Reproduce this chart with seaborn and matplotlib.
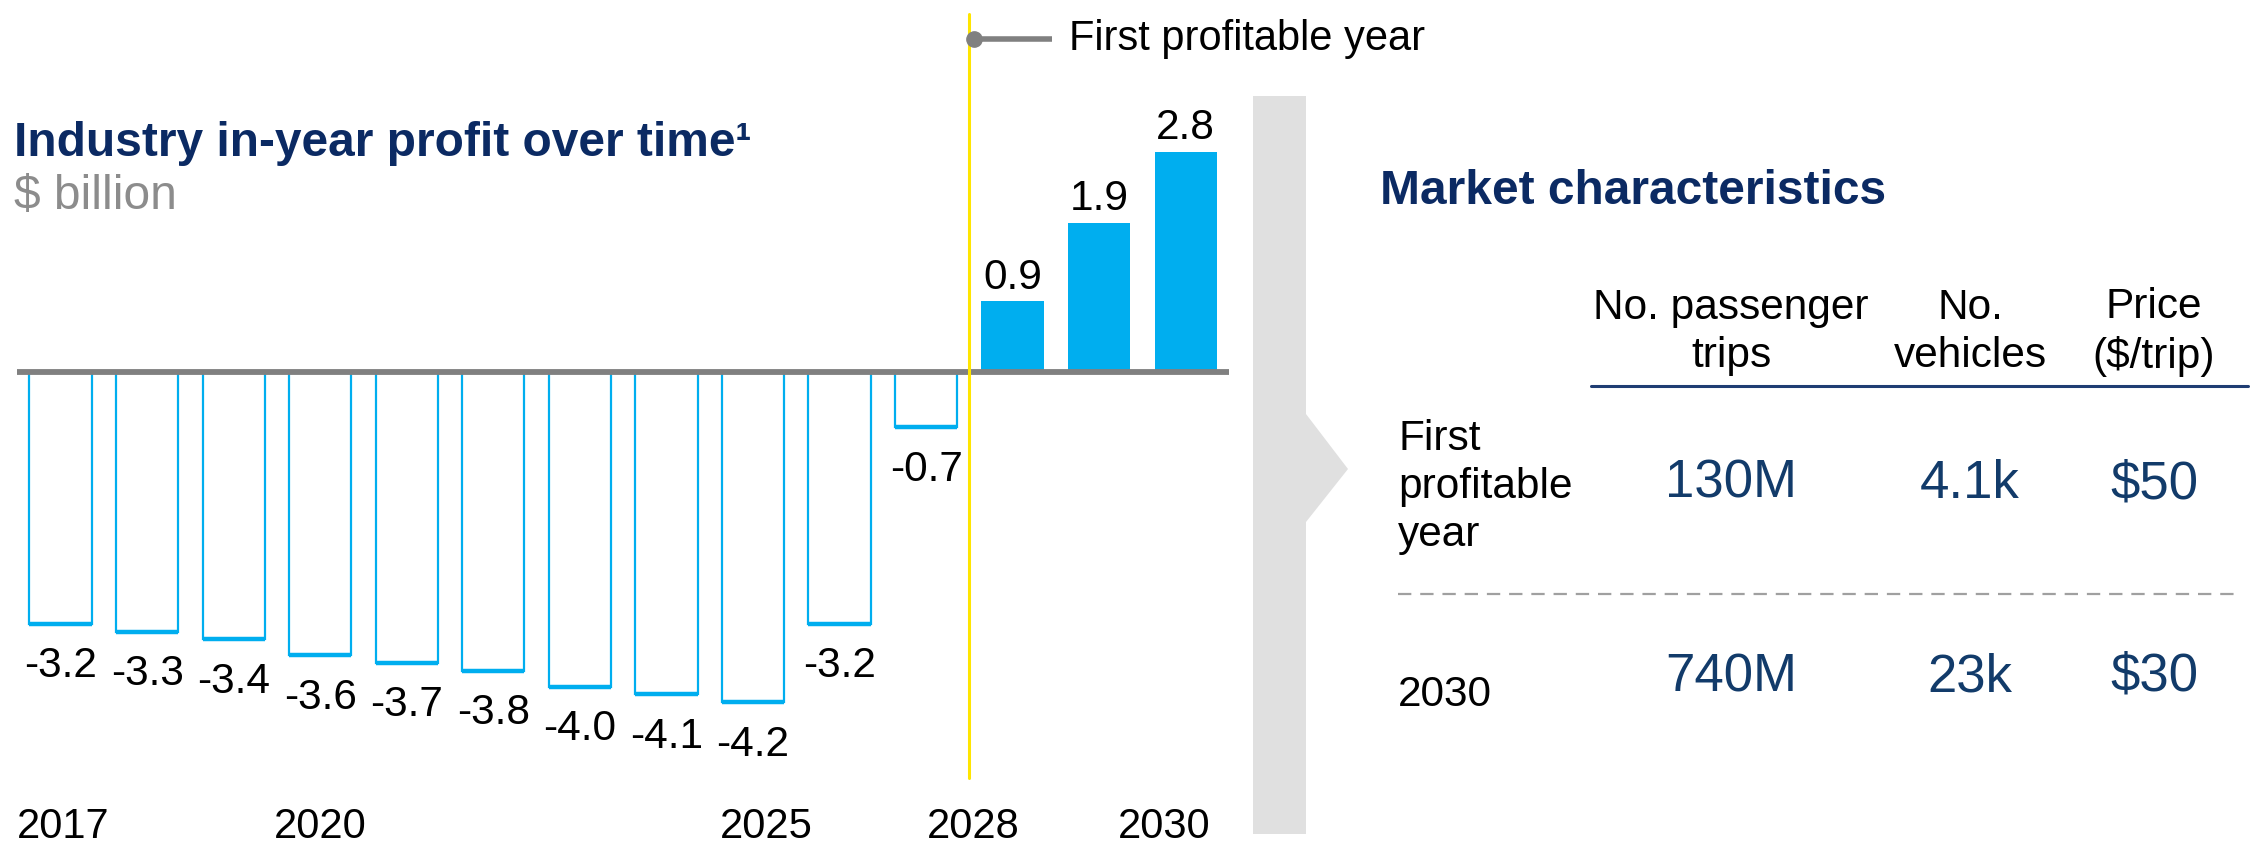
import matplotlib
matplotlib.use("Agg")
import matplotlib.pyplot as plt
from matplotlib.patches import Polygon
import seaborn as sns
import pandas as pd

# ---------------- data ----------------
years = [2017, 2018, 2019, 2020, 2021, 2022, 2023, 2024, 2025, 2026, 2027, 2028, 2029, 2030]
profit = [-3.2, -3.3, -3.4, -3.6, -3.7, -3.8, -4.0, -4.1, -4.2, -3.2, -0.7, 0.9, 1.9, 2.8]
tick_years = [2017, 2020, 2025, 2028, 2030]
first_profitable_label = "First profitable year"

table_cols = ["No. passenger\ntrips", "No.\nvehicles", "Price\n($/trip)"]
table_rows = ["First\nprofitable\nyear", "2030"]
row_first = ["130M", "4.1k", "$50"]
row_2030 = ["740M", "23k", "$30"]

# ---------------- style ----------------
sns.set_theme(style="white")
plt.rcParams["font.family"] = ["Liberation Sans", "DejaVu Sans"]
plt.rcParams["text.color"] = "black"

NAVY = "#0B2A63"
VAL_NAVY = "#123B6A"
BLUE = "#00AEEF"
GREY = "#808080"
YELLOW = "#FFE500"

W, H, DPI = 2260, 847, 100
fig = plt.figure(figsize=(W / DPI, H / DPI), dpi=DPI)

# main chart axes
ax = fig.add_axes([17.3 / W, 0, (1229 - 17.3) / W, 1])
df = pd.DataFrame({"year": [str(y) for y in years], "profit": profit})
sns.barplot(data=df, x="year", y="profit", color=BLUE, width=0.72,
            errorbar=None, ax=ax, saturation=1)
for p, v in zip(ax.patches, profit):
    if v < 0:
        p.set_facecolor("white")
        p.set_edgecolor(BLUE)
        p.set_linewidth(1.6)
        # heavier bottom edge, as in the reference
        x0 = p.get_x()
        ax.plot([x0, x0 + p.get_width()], [v, v], color=BLUE, lw=3.2,
                solid_capstyle="butt", zorder=2.5)
    else:
        p.set_facecolor(BLUE)
        p.set_edgecolor(BLUE)
        p.set_linewidth(0)
ax.set_xlim(-0.5, len(years) - 0.5)
ax.set_ylim(-6.04, 4.73)
ax.axhline(0, color=GREY, lw=4.2, zorder=3)
ax.axis("off")

for i, v in enumerate(profit):
    if v < 0:
        ax.text(i, v - 0.54, f"{v:.1f}", ha="center", va="center", fontsize=30.5)
    else:
        ax.text(i, v + 0.30, f"{v:.1f}", ha="center", va="center", fontsize=30.5)

# year labels
tick_shift = {2028: -0.45, 2030: -0.25, 2025: 0.15, 2017: 0.03}
for y in tick_years:
    i = years.index(y)
    ax.text(i + tick_shift.get(y, 0), -5.79, str(y), ha="center", va="center", fontsize=30)

# first profitable year marker
fp = years.index(2028) - 0.5
ax.plot([fp, fp], [-5.16, 4.55], color=YELLOW, lw=2.2, zorder=4)
ax.plot([fp + 0.05, fp + 0.95], [4.23, 4.23], color=GREY, lw=4, zorder=5,
        solid_capstyle="butt")
ax.plot([fp + 0.05], [4.23], marker="o", ms=11, color=GREY, zorder=6)
ax.text(fp + 1.15, 4.23, first_profitable_label, ha="left", va="center", fontsize=30)

# overlay axes in pixel coords
ov = fig.add_axes([0, 0, 1, 1], facecolor="none")
ov.set_xlim(0, W)
ov.set_ylim(H, 0)
ov.axis("off")

ov.text(14, 144, "Industry in-year profit over time¹", fontsize=34.5, fontweight="bold",
        color=NAVY, ha="left", va="center")
ov.text(14, 196, "$ billion", fontsize=34.5, color="#8C8C8C", ha="left", va="center")

# gray chevron band
band = Polygon([(1253, 96), (1306, 96), (1306, 414), (1348, 469), (1306, 522),
                (1306, 834), (1253, 834)], closed=True, facecolor="#E0E0E0",
               edgecolor="none")
ov.add_patch(band)

ov.text(1380, 192, "Market characteristics", fontsize=34.5, fontweight="bold",
        color=NAVY, ha="left", va="center")

col_x = [1731, 1970, 2154]
for cx, lab in zip(col_x, table_cols):
    ov.text(cx, 332, lab, ha="center", va="center", fontsize=30.5, linespacing=1.27)
ov.plot([1591, 2248], [386, 386], color="#1F3D73", lw=2.2)

ov.text(1398, 487, table_rows[0], ha="left", va="center", fontsize=30.5, linespacing=1.25)
for cx, v in zip(col_x, row_first):
    ov.text(cx, 484, v, ha="center", va="center", fontsize=38, color=VAL_NAVY)

ov.plot([1398, 2236], [594, 594], color="#A0A0A0", lw=1.6, dashes=(6, 4))

ov.text(1398, 695, table_rows[1], ha="left", va="center", fontsize=30.5)
for cx, v in zip(col_x, row_2030):
    ov.text(cx, 677, v, ha="center", va="center", fontsize=38, color=VAL_NAVY)

fig.savefig("out.png", dpi=DPI)
